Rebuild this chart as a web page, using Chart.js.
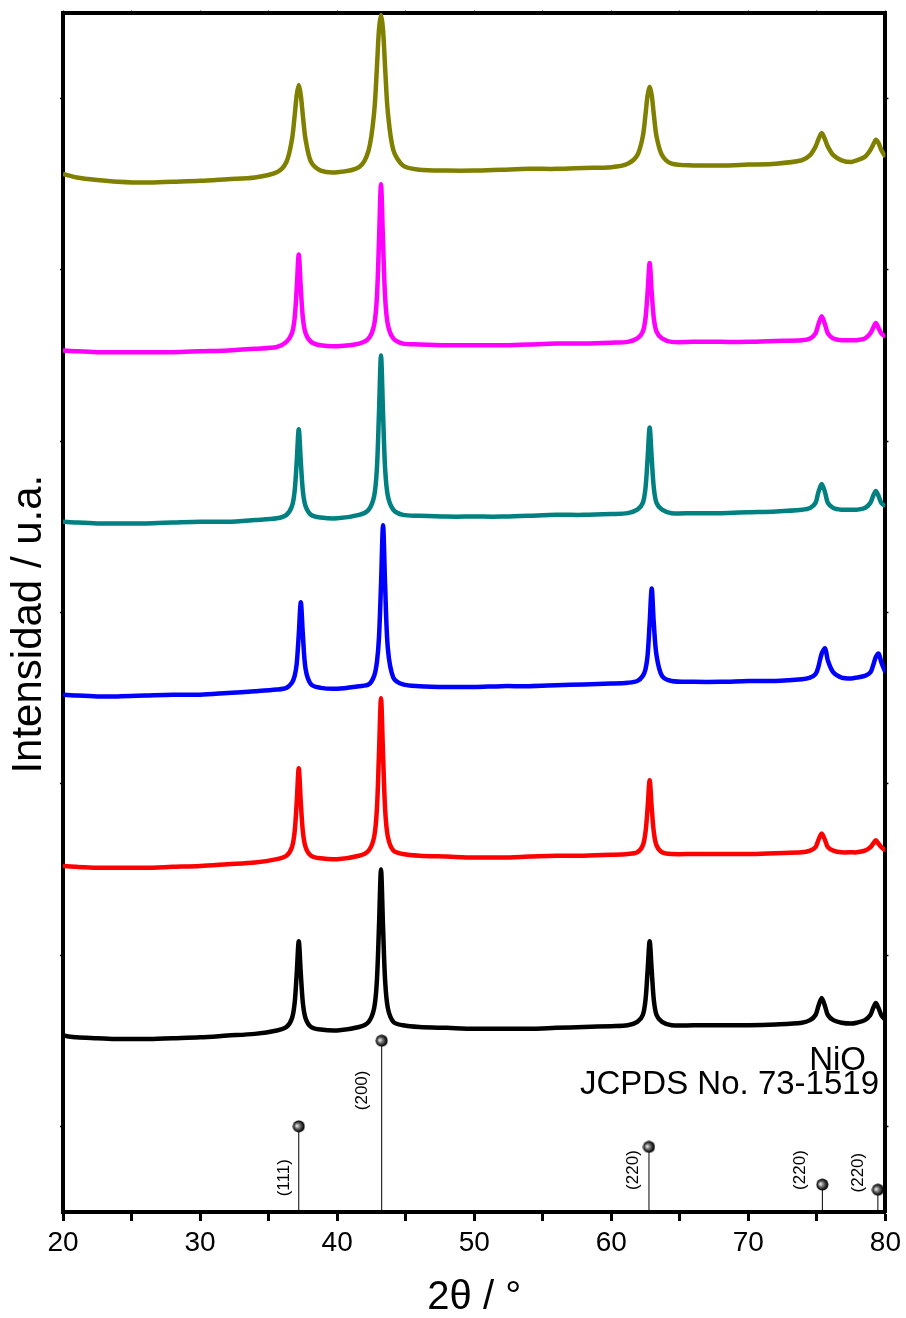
<!DOCTYPE html>
<html>
<head>
<meta charset="utf-8">
<script src="https://cdn.jsdelivr.net/npm/chart.js@4.4.1/dist/chart.umd.min.js"></script>
<style>
  html, body { margin: 0; padding: 0; background: #fff; }
  canvas { display: block; }
</style>
</head>
<body>
<canvas id="xrdChart" width="906" height="1318"></canvas>
<script>
// 2θ (grados) compartido por todas las curvas
const twoTheta = [
  20, 21, 22.5, 24, 26, 28, 30, 32, 34,
  35.6, 36.3, 36.7, 36.9, 37.05, 37.2, 37.35, 37.5, 37.7, 38.1, 38.8,
  40,
  41.6, 42.3, 42.7, 42.9, 43.05, 43.2, 43.35, 43.5, 43.7, 44.1, 44.8,
  46, 48, 50, 52, 54, 56, 58, 60,
  61.2, 61.9, 62.3, 62.5, 62.65, 62.8, 62.95, 63.1, 63.3, 63.7, 64.4,
  66, 68, 70, 72,
  73.9, 74.5, 74.9, 75.1, 75.35, 75.6, 75.8, 76.2, 76.8,
  77.5,
  77.9, 78.5, 78.9, 79.1, 79.3, 79.5, 79.7, 80
];

// Intensidades (u.a., ya desplazadas para apilar)
const curveBlack = [
  1.03, 1.02, 1.015, 1.01, 1.01, 1.015, 1.02, 1.03, 1.04,
  1.06, 1.08, 1.13, 1.22, 1.39, 1.58, 1.39, 1.22, 1.13, 1.08, 1.065,
  1.06,
  1.08, 1.11, 1.19, 1.35, 1.66, 2.00, 1.66, 1.35, 1.19, 1.11, 1.09,
  1.08, 1.075, 1.07, 1.07, 1.07, 1.075, 1.08, 1.085,
  1.09, 1.11, 1.15, 1.24, 1.41, 1.58, 1.41, 1.24, 1.15, 1.11, 1.09,
  1.09, 1.09, 1.09, 1.095,
  1.105, 1.12, 1.15, 1.20, 1.25, 1.20, 1.15, 1.12, 1.105,
  1.10,
  1.105, 1.12, 1.15, 1.19, 1.22, 1.19, 1.15, 1.12
];
const curveRed = [
  2.02, 2.015, 2.01, 2.01, 2.01, 2.015, 2.02, 2.03, 2.04,
  2.06, 2.08, 2.13, 2.22, 2.39, 2.59, 2.39, 2.22, 2.13, 2.08, 2.065,
  2.06,
  2.08, 2.11, 2.19, 2.35, 2.67, 3.00, 2.67, 2.35, 2.19, 2.11, 2.09,
  2.08, 2.075, 2.07, 2.07, 2.075, 2.08, 2.08, 2.085,
  2.09, 2.10, 2.14, 2.22, 2.36, 2.52, 2.36, 2.22, 2.14, 2.10, 2.09,
  2.09, 2.09, 2.09, 2.095,
  2.10, 2.11, 2.13, 2.17, 2.21, 2.17, 2.13, 2.11, 2.10,
  2.10,
  2.10, 2.11, 2.13, 2.15, 2.17, 2.15, 2.13, 2.11
];
const curveBlue = [
  3.02, 3.015, 3.01, 3.01, 3.015, 3.02, 3.02, 3.03, 3.04,
  3.05, 3.06, 3.09, 3.13, 3.20, 3.37, 3.56, 3.37, 3.17, 3.08, 3.06,
  3.055,
  3.07, 3.08, 3.13, 3.21, 3.35, 3.66, 4.01, 3.66, 3.29, 3.12, 3.08,
  3.07, 3.065, 3.065, 3.07, 3.07, 3.075, 3.08, 3.085,
  3.09, 3.10, 3.13, 3.17, 3.25, 3.44, 3.64, 3.44, 3.25, 3.13, 3.10,
  3.095, 3.095, 3.10, 3.10,
  3.11, 3.12, 3.14, 3.18, 3.26, 3.29, 3.22, 3.15, 3.12,
  3.115,
  3.12, 3.13, 3.15, 3.19, 3.24, 3.26, 3.21, 3.15
];
const curveTeal = [
  4.03, 4.025, 4.02, 4.02, 4.02, 4.025, 4.03, 4.03, 4.04,
  4.05, 4.07, 4.12, 4.21, 4.38, 4.57, 4.38, 4.21, 4.12, 4.07, 4.055,
  4.05,
  4.07, 4.10, 4.18, 4.34, 4.66, 5.00, 4.66, 4.34, 4.18, 4.10, 4.07,
  4.065, 4.06, 4.06, 4.06, 4.065, 4.07, 4.07, 4.075,
  4.08, 4.10, 4.14, 4.23, 4.40, 4.58, 4.40, 4.23, 4.14, 4.10, 4.08,
  4.08, 4.08, 4.085, 4.09,
  4.10, 4.11, 4.14, 4.20, 4.25, 4.20, 4.14, 4.11, 4.10,
  4.10,
  4.10, 4.11, 4.14, 4.18, 4.21, 4.18, 4.14, 4.12
];
const curveMagenta = [
  5.03, 5.025, 5.02, 5.02, 5.02, 5.02, 5.025, 5.03, 5.04,
  5.05, 5.08, 5.13, 5.22, 5.39, 5.59, 5.39, 5.22, 5.13, 5.08, 5.06,
  5.055,
  5.07, 5.10, 5.18, 5.34, 5.66, 6.00, 5.66, 5.34, 5.18, 5.10, 5.07,
  5.065, 5.06, 5.06, 5.06, 5.065, 5.07, 5.07, 5.075,
  5.08, 5.10, 5.14, 5.22, 5.37, 5.54, 5.37, 5.22, 5.14, 5.10, 5.08,
  5.08, 5.08, 5.08, 5.085,
  5.09, 5.10, 5.13, 5.18, 5.23, 5.18, 5.13, 5.10, 5.09,
  5.09,
  5.09, 5.10, 5.13, 5.16, 5.19, 5.16, 5.13, 5.11
];
const curveOlive = [
  6.06, 6.04, 6.025, 6.015, 6.01, 6.015, 6.02, 6.03, 6.04,
  6.07, 6.13, 6.26, 6.40, 6.52, 6.58, 6.52, 6.40, 6.26, 6.13, 6.08,
  6.07,
  6.10, 6.20, 6.42, 6.68, 6.90, 6.99, 6.90, 6.68, 6.42, 6.20, 6.11,
  6.085, 6.08, 6.08, 6.085, 6.09, 6.09, 6.095, 6.10,
  6.12, 6.17, 6.28, 6.41, 6.52, 6.57, 6.52, 6.41, 6.28, 6.17, 6.12,
  6.11, 6.11, 6.115, 6.12,
  6.14, 6.17, 6.22, 6.26, 6.30, 6.26, 6.22, 6.17, 6.14,
  6.13,
  6.14, 6.16, 6.20, 6.23, 6.26, 6.24, 6.20, 6.16
];

// Patrón de referencia NiO (JCPDS 73-1519)
const refPositions = [37.2, 43.25, 62.75, 75.4, 79.45];
const refIntensities = [0.50, 1.00, 0.38, 0.16, 0.13];
const refLabels = ["(111)", "(200)", "(220)", "(220)", "(220)"];

// Ticks
const yTickValues = [0.5, 1.5, 2.5, 3.5, 4.5, 5.5, 6.5];

const FONT = "'Liberation Sans', Arial, sans-serif";

// Esfera para los marcadores del patrón
function makeSphere(r) {
  const c = document.createElement("canvas");
  c.width = c.height = r * 2 + 1;
  const g = c.getContext("2d");
  const cx = r + 0.5;
  const grad = g.createRadialGradient(cx - r * 0.35, cx - r * 0.1, 0.5, cx, cx, r);
  grad.addColorStop(0, "#e6e6e6");
  grad.addColorStop(0.35, "#7a7a7a");
  grad.addColorStop(0.8, "#141414");
  grad.addColorStop(1, "#000");
  g.fillStyle = grad;
  g.beginPath();
  g.arc(cx, cx, r, 0, Math.PI * 2);
  g.fill();
  return c;
}
const sphere = makeSphere(6);

function curveDataset(values, color) {
  return {
    type: "line",
    data: twoTheta.map((x, i) => ({ x: x, y: values[i] })),
    borderColor: color,
    borderWidth: 4.5,
    pointRadius: 0,
    tension: 0.3,
    borderJoinStyle: "round",
    fill: false,
  };
}

const datasets = [
  curveDataset(curveBlack, "#000000"),
  curveDataset(curveRed, "#ff0000"),
  curveDataset(curveBlue, "#0000ff"),
  curveDataset(curveTeal, "#008080"),
  curveDataset(curveMagenta, "#ff00ff"),
  curveDataset(curveOlive, "#808000"),
];

refPositions.forEach((pos, i) => {
  datasets.push({
    type: "line",
    data: [{ x: pos, y: 0 }, { x: pos, y: refIntensities[i] }],
    borderColor: "#000",
    borderWidth: 1,
    pointRadius: [0, 6],
    pointStyle: sphere,
    tension: 0,
  });
});

// Etiquetas (hkl) y texto de la ficha
const annotationsPlugin = {
  id: "annotations",
  afterDatasetsDraw(chart, args, opts) {
    const { ctx, scales } = chart;
    ctx.save();
    ctx.fillStyle = "#000";
    ctx.font = "17px " + FONT;
    ctx.textAlign = "center";
    ctx.textBaseline = "middle";
    refPositions.forEach((pos, i) => {
      const px = scales.x.getPixelForValue(pos) + opts.labelDx[i];
      const py = scales.y.getPixelForValue(opts.labelY[i]);
      ctx.save();
      ctx.translate(px, py);
      ctx.rotate(-Math.PI / 2);
      ctx.fillText(refLabels[i], 0, 0);
      ctx.restore();
    });

    ctx.font = "33px " + FONT;
    ctx.textAlign = "right";
    ctx.textBaseline = "alphabetic";
    ctx.fillText("NiO", 866, 1070);
    ctx.fillText("JCPDS No. 73-1519", 879, 1094);
    ctx.restore();
  },
};

const ctx = document.getElementById("xrdChart").getContext("2d");
new Chart(ctx, {
  type: "line",
  data: { datasets: datasets },
  options: {
    responsive: false,
    animation: false,
    devicePixelRatio: 1,
    layout: { padding: 0 },
    plugins: {
      legend: { display: false },
      tooltip: { enabled: false },
      annotations: {
        labelDx: [-14, -19, -16, -22, -20],
        labelY: [0.20, 0.71, 0.245, 0.245, 0.23],
      },
    },
    scales: {
      x: {
        type: "linear",
        position: "bottom",
        min: 20,
        max: 80,
        ticks: {
          stepSize: 5,
          autoSkip: false,
          maxRotation: 0,
          padding: 5,
          color: "#000",
          font: { size: 28, family: FONT },
          callback: (v) => (v % 10 === 0 ? v : ""),
        },
        grid: {
          drawOnChartArea: false,
          drawTicks: true,
          tickLength: 9,
          tickWidth: 3,
          tickColor: "#000",
        },
        border: { color: "#000", width: 4 },
        title: {
          display: true,
          text: "2θ / °",
          color: "#000",
          font: { size: 40, family: FONT, lineHeight: 1 },
          padding: { top: 0, bottom: 0 },
        },
        afterFit: (s) => { s.height = 106; },
      },
      x2: {
        type: "linear",
        position: "top",
        min: 20,
        max: 80,
        ticks: { display: false, stepSize: 5 },
        grid: { drawOnChartArea: false, tickLength: 3, tickWidth: 1, tickColor: "#999" },
        border: { color: "#000", width: 4 },
        afterFit: (s) => { s.height = 13; },
      },
      y: {
        type: "linear",
        position: "left",
        min: 0,
        max: 7,
        afterBuildTicks: (s) => { s.ticks = yTickValues.map((v) => ({ value: v })); },
        ticks: { display: false },
        grid: { drawOnChartArea: false, tickLength: 3, tickWidth: 1.5, tickColor: "#000" },
        border: { color: "#000", width: 4 },
        title: {
          display: true,
          text: "Intensidad / u.a.  ",
          color: "#000",
          font: { size: 42, family: FONT, lineHeight: 1.2 },
          padding: { top: 4, bottom: 0 },
        },
        afterFit: (s) => { s.width = 63; },
      },
      y2: {
        type: "linear",
        position: "right",
        min: 0,
        max: 7,
        afterBuildTicks: (s) => { s.ticks = yTickValues.map((v) => ({ value: v })); },
        ticks: { display: false },
        grid: { drawOnChartArea: false, tickLength: 3, tickWidth: 1.5, tickColor: "#000" },
        border: { color: "#000", width: 4 },
        afterFit: (s) => { s.width = 20; },
      },
    },
  },
  plugins: [annotationsPlugin],
});
</script>
</body>
</html>
